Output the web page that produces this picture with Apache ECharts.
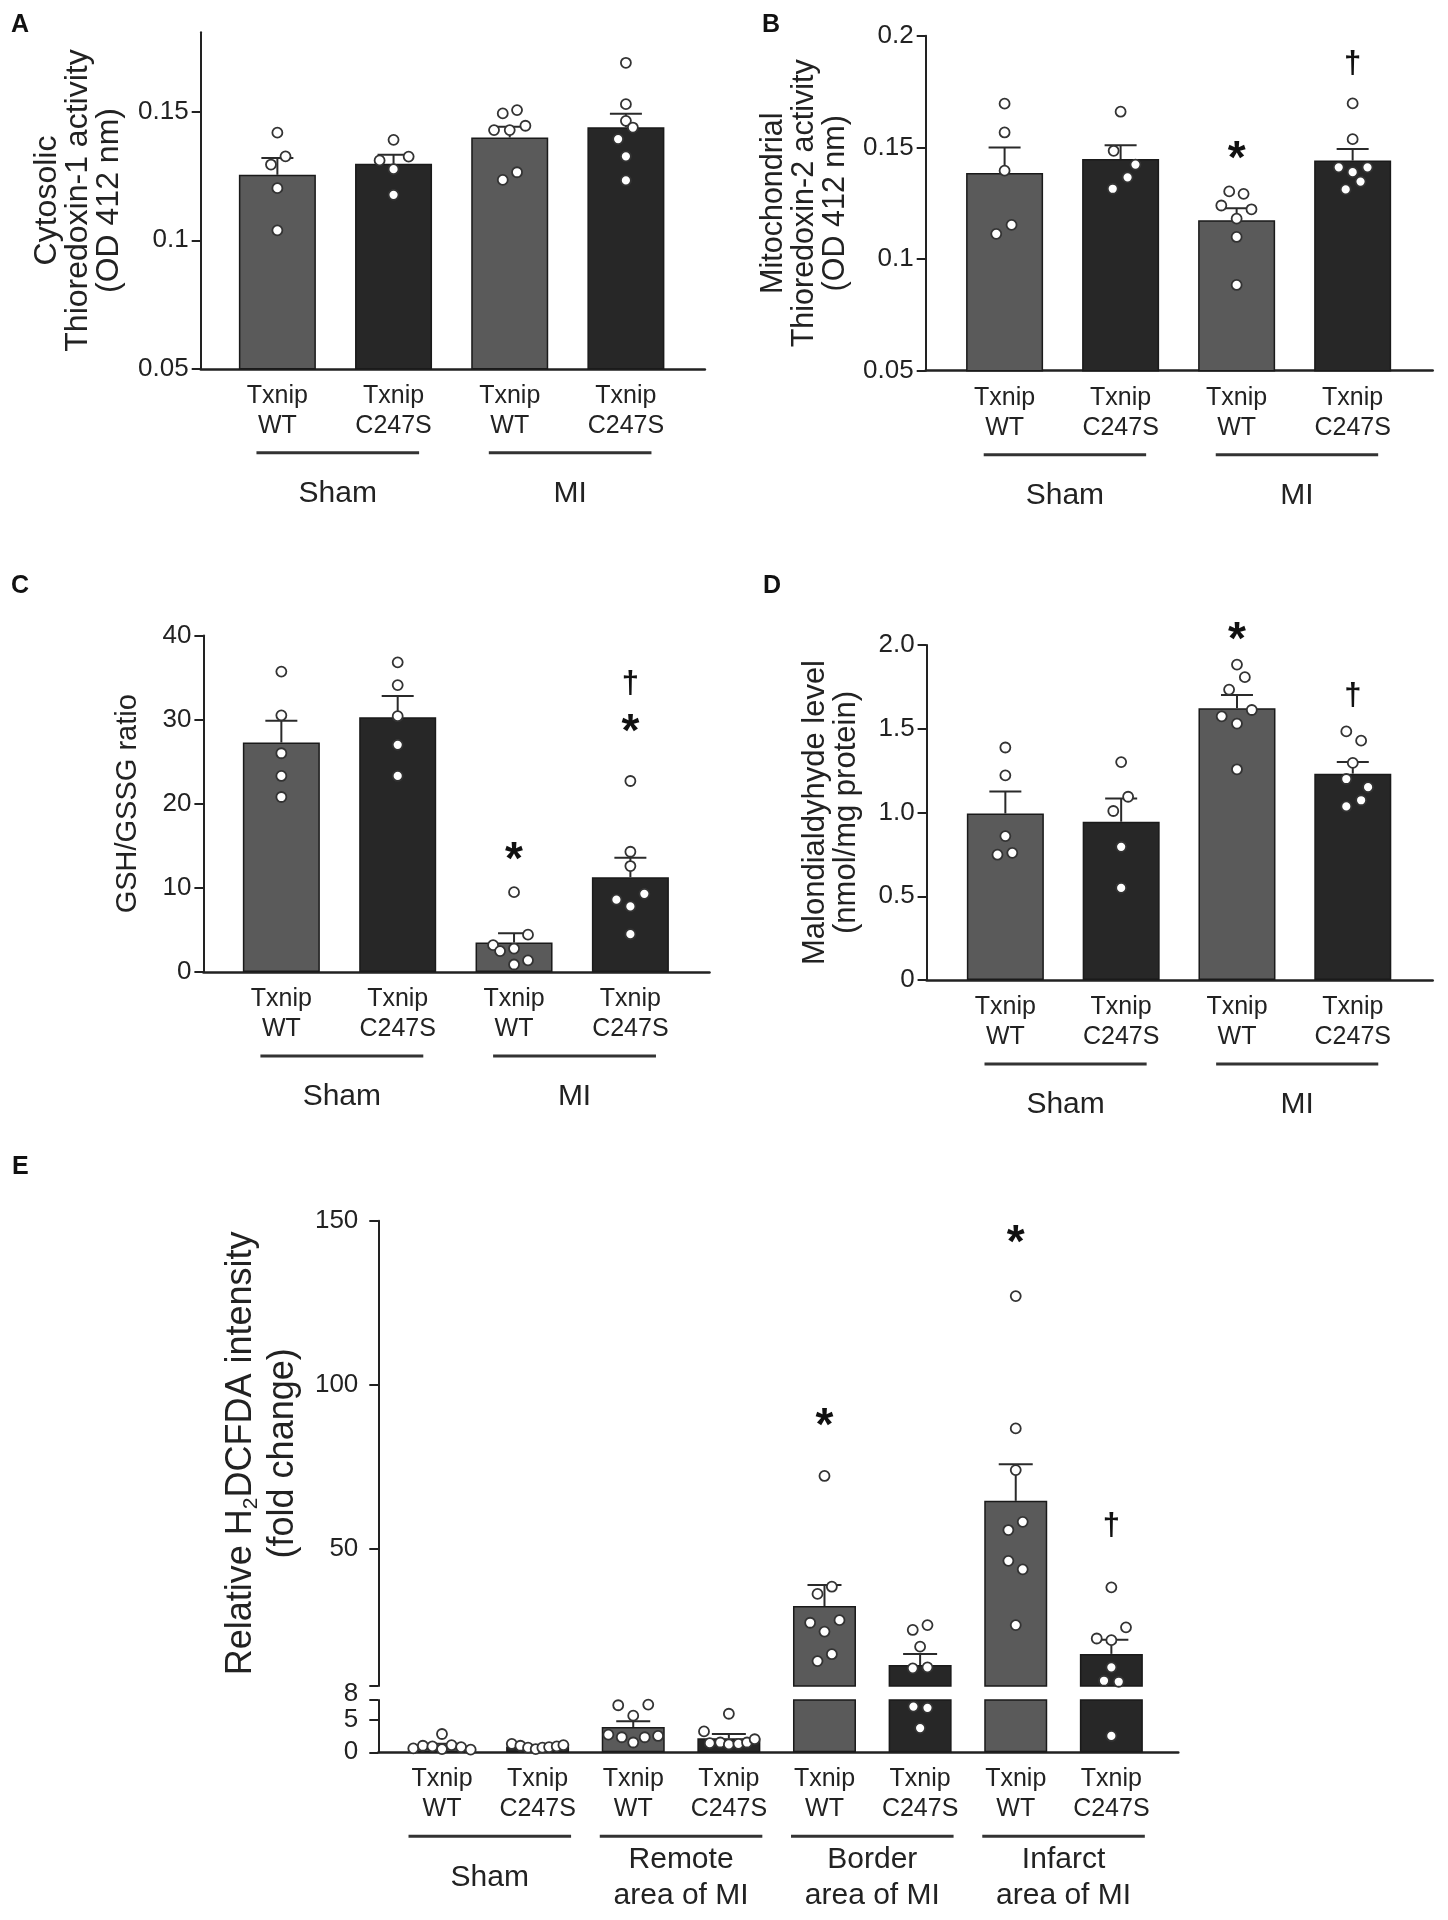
<!DOCTYPE html>
<html>
<head>
<meta charset="utf-8">
<script src="https://cdn.jsdelivr.net/npm/echarts@6/dist/echarts.min.js"></script>
<style>
html,body{margin:0;padding:0;background:#fff;}
#c{width:1448px;height:1920px;}
</style>
</head>
<body>
<div id="c"></div>
<script>
// ---------------- DATA ----------------
const categoriesAD = ['Txnip\nWT', 'Txnip\nC247S', 'Txnip\nWT', 'Txnip\nC247S'];
const groupsAD = ['Sham', 'MI'];
const categoriesE = ['Txnip\nWT', 'Txnip\nC247S', 'Txnip\nWT', 'Txnip\nC247S',
                     'Txnip\nWT', 'Txnip\nC247S', 'Txnip\nWT', 'Txnip\nC247S'];
const groupsE = ['Sham', 'Remote\narea of MI', 'Border\narea of MI', 'Infarct\narea of MI'];

// Panel A: Cytosolic thioredoxin-1 activity
const yTicksA = [0.05, 0.1, 0.15];
const yTickLabelsA = ['0.05', '0.1', '0.15'];
const meanA = [0.1255, 0.1298, 0.1400, 0.1440];
const semTopA = [0.1320, 0.1333, 0.1442, 0.1493];
const dotsA = [
  [0.1419, 0.1327, 0.1295, 0.1203, 0.1039],
  [0.1391, 0.1311, 0.1326, 0.1277, 0.1177],
  [0.1494, 0.1507, 0.1429, 0.1429, 0.1446, 0.1235, 0.1265],
  [0.1691, 0.1530, 0.1465, 0.1439, 0.1394, 0.1327, 0.1233]
];
const jitterA = [
  [0, 0.07, -0.055, 0, 0],
  [0, -0.12, 0.13, 0, 0],
  [-0.06, 0.063, -0.135, 0, 0.135, -0.06, 0.063],
  [0, 0, 0, 0.06, -0.067, 0, 0]
];
const marksA = [];

// Panel B: Mitochondrial thioredoxin-2 activity
const yTicksB = [0.05, 0.1, 0.15, 0.2];
const yTickLabelsB = ['0.05', '0.1', '0.15', '0.2'];
const meanB = [0.1386, 0.1448, 0.1174, 0.1441];
const semTopB = [0.1500, 0.1510, 0.1228, 0.1493];
const dotsB = [
  [0.1696, 0.1567, 0.1396, 0.1113, 0.1153],
  [0.1660, 0.1485, 0.1423, 0.1366, 0.1315],
  [0.1303, 0.1292, 0.1240, 0.1223, 0.1181, 0.1099, 0.0884],
  [0.1697, 0.1537, 0.1411, 0.1389, 0.1411, 0.1312, 0.1347]
];
const jitterB = [
  [0, 0, 0, -0.072, 0.06],
  [0, -0.06, 0.128, 0.06, -0.068],
  [-0.064, 0.06, -0.132, 0.128, 0, 0, 0],
  [0, 0, -0.12, 0, 0.128, -0.06, 0.068]
];
const marksB = [[3, 0.149, '*'], [4, 0.187, '†']];

// Panel C: GSH/GSSG ratio
const yTicksC = [0, 10, 20, 30, 40];
const yTickLabelsC = ['0', '10', '20', '30', '40'];
const meanC = [27.27, 30.29, 3.52, 11.28];
const semTopC = [29.86, 32.79, 4.62, 13.57];
const dotsC = [
  [35.7, 30.5, 26.0, 23.3, 20.8],
  [36.8, 34.1, 30.4, 27.0, 23.3],
  [9.5, 4.45, 3.2, 2.5, 2.8, 1.4, 0.9],
  [22.7, 14.3, 12.6, 8.6, 9.3, 7.8, 4.5]
];
const jitterC = [
  [0, 0, 0, 0, 0],
  [0, 0, 0, 0, 0],
  [0, 0.12, -0.18, -0.12, 0, 0.12, 0],
  [0, 0, 0, -0.12, 0.12, 0, 0]
];
const marksC = [[3, 14.5, '*'], [4, 29.7, '*'], [4, 34.2, '†']];

// Panel D: Malondialdehyde level
const yTicksD = [0, 0.5, 1, 1.5, 2];
const yTickLabelsD = ['0', '0.5', '1.0', '1.5', '2.0'];
const meanD = [0.994, 0.945, 1.623, 1.232];
const semTopD = [1.126, 1.083, 1.702, 1.301];
const dotsD = [
  [1.388, 1.222, 0.859, 0.748, 0.759],
  [1.301, 1.094, 1.009, 0.795, 0.550],
  [1.883, 1.808, 1.734, 1.612, 1.574, 1.531, 1.258],
  [1.484, 1.429, 1.296, 1.200, 1.151, 1.073, 1.036]
];
const jitterD = [
  [0, 0, 0, -0.068, 0.06],
  [0, 0.06, -0.068, 0, 0],
  [0, 0.068, -0.068, 0.128, -0.132, 0, 0],
  [-0.056, 0.072, 0, -0.056, 0.132, 0.072, -0.056]
];
const marksD = [[3, 2.085, '*'], [4, 1.691, '†']];

// Panel E: Relative H2DCFDA intensity (broken axis at 8)
const yBreakE = 8;
const yTicksEUpper = [8, 50, 100, 150];
const yTickLabelsEUpper = ['8', '50', '100', '150'];
const yTicksELower = [0, 5, 8];
const yLabelValsELower = [0, 5];
const yTickLabelsELower = ['0', '5'];
const meanE = [0.98, 0.87, 3.87, 2.16, 32.4, 14.4, 64.5, 17.8];
const semTopE = [1.3, 1.05, 4.74, 2.8, 38.8, 17.8, 75.7, 22.1];
const dotsE = [
  [2.8, 0.6, 1.0, 0.9, 0.5, 1.1, 0.8, 0.4],
  [1.3, 1.0, 0.7, 0.5, 0.7, 0.8, 0.9, 1.1],
  [7.2, 7.3, 5.6, 2.7, 2.3, 1.5, 2.3, 2.5],
  [5.9, 3.2, 1.4, 1.5, 1.2, 1.3, 1.5, 2.0],
  [72.1, 38.3, 36.1, 27.3, 28.1, 24.6, 17.7, 15.6],
  [25.1, 26.6, 20.0, 13.4, 13.7, 7.0, 6.8, 3.7],
  [127.0, 86.6, 73.9, 58.1, 55.6, 46.2, 43.6, 26.6],
  [38.1, 25.9, 22.5, 22.0, 13.7, 9.6, 9.3, 2.5]
];
const jitterE = [
  [0, -0.3, -0.2, -0.1, 0, 0.1, 0.2, 0.3],
  [-0.27, -0.18, -0.1, -0.02, 0.05, 0.12, 0.2, 0.27],
  [-0.157, 0.157, 0, -0.26, -0.12, 0, 0.12, 0.26],
  [0, -0.26, -0.2, -0.09, 0, 0.1, 0.19, 0.27],
  [0, 0.077, -0.073, -0.15, 0.157, 0, 0.077, -0.073],
  [-0.077, 0.077, 0, -0.077, 0.077, -0.07, 0.077, 0],
  [0, 0, 0, 0.073, -0.077, -0.077, 0.073, 0],
  [0, 0.153, -0.153, 0, 0, -0.077, 0.077, 0]
];
const marksE = [[5, 90.2, '*'], [7, 146.1, '*'], [8, 56.6, '†']];

// ---------------- CHART ----------------
const FONT = '"Liberation Sans", Arial, Helvetica, sans-serif';
const INK = '#222';
const WT_COLOR = '#5a5a5a';
const MUT_COLOR = '#272727';

const grids = [], xAxes = [], yAxes = [], series = [];

function fmtTick(vals, labels) {
  return function (v) {
    const i = vals.findIndex(t => Math.abs(t - v) < 1e-9);
    return i >= 0 ? labels[i] : '';
  };
}

function addGrid(rect, xr, yr, o) {
  const gi = grids.length;
  grids.push({left: rect[0], top: rect[1], width: rect[2], height: rect[3], containLabel: false});
  xAxes.push({
    type: 'value', gridIndex: gi, min: xr[0], max: xr[1],
    axisLine: {show: o.showX, onZero: false, lineStyle: {color: INK, width: 2.5}},
    axisTick: {show: false}, splitLine: {show: false},
    axisLabel: o.cats ? {
      show: true, customValues: o.cats.map((c, i) => i + 1),
      formatter: v => o.cats[Math.round(v) - 1] || '',
      fontSize: 25, lineHeight: 30, margin: 12, color: INK, fontFamily: FONT
    } : {show: false}
  });
  const lv = o.labelVals || o.tickVals;
  yAxes.push({
    type: 'value', gridIndex: gi, min: yr[0], max: yr[1],
    axisLine: {show: true, onZero: false, lineStyle: {color: INK, width: 2}},
    axisTick: {show: true, length: 9, customValues: o.tickVals, lineStyle: {color: INK, width: 2}},
    axisLabel: {
      show: true, customValues: lv, formatter: o.formatter || fmtTick(lv, o.tickLabels),
      fontSize: 26, margin: o.labelMargin || 12, color: INK, fontFamily: FONT, rich: o.rich
    },
    splitLine: {show: false},
    name: o.name || '', nameLocation: 'middle', nameRotate: 90, nameGap: o.nameGap || 60,
    nameTextStyle: {fontSize: o.nameSize || 30, lineHeight: o.nameLH || 31, color: INK,
                    fontFamily: FONT, rich: o.nameRich}
  });
  return gi;
}

function addBars(gi, means, barWidth) {
  series.push({
    type: 'bar', xAxisIndex: gi, yAxisIndex: gi, barWidth: barWidth, clip: true, silent: true, z: 2,
    itemStyle: {borderColor: '#1a1a1a', borderWidth: 1.5},
    data: means.map((m, k) => ({value: [k + 1, m], itemStyle: {color: k % 2 ? MUT_COLOR : WT_COLOR}}))
  });
}

function addErr(gi, items, capHalf) {
  series.push({
    type: 'custom', xAxisIndex: gi, yAxisIndex: gi, z: 3, silent: true, clip: false,
    data: items,
    renderItem: function (p, api) {
      const x = api.value(0);
      const a = api.coord([x, api.value(1)]);
      const b = api.coord([x, api.value(2)]);
      const st = {stroke: '#2a2a2a', lineWidth: 2};
      return {type: 'group', children: [
        {type: 'line', shape: {x1: a[0], y1: a[1], x2: b[0], y2: b[1]}, style: st},
        {type: 'line', shape: {x1: b[0] - capHalf, y1: b[1], x2: b[0] + capHalf, y2: b[1]}, style: st}
      ]};
    }
  });
}

function addDots(gi, pts) {
  series.push({
    type: 'scatter', xAxisIndex: gi, yAxisIndex: gi, z: 4, silent: true,
    symbol: 'circle', symbolSize: 10,
    itemStyle: {color: '#fff', borderColor: '#333', borderWidth: 1.8, opacity: 1},
    data: pts
  });
}

function addMarks(gi, marks) {
  if (!marks.length) return;
  series.push({
    type: 'custom', xAxisIndex: gi, yAxisIndex: gi, z: 5, silent: true, clip: false,
    data: marks.map(m => [m[0], m[1], m[2] === '*' ? 0 : 1]),
    renderItem: function (p, api) {
      const c = api.coord([api.value(0), api.value(1)]);
      const star = api.value(2) === 0;
      const fs = star ? 46 : 31;
      return {type: 'text', x: c[0], y: c[1] + (star ? 0.24 * fs : 0),
        style: {text: star ? '*' : '†', fontSize: fs, fontWeight: 'bold', fontFamily: FONT,
                fill: '#111', align: 'center', verticalAlign: 'middle'}};
    }
  });
}

function addGroups(gi, groups, yMin, padL, padR) {
  series.push({
    type: 'custom', xAxisIndex: gi, yAxisIndex: gi, z: 5, silent: true, clip: false,
    data: groups.map((g, k) => [2 * k + 1, yMin, k]),
    renderItem: function (p, api) {
      const first = api.value(0), k = api.value(2);
      const a = api.coord([first - padL, yMin]);
      const b = api.coord([first + 1 + padR, yMin]);
      const y = a[1];
      return {type: 'group', children: [
        {type: 'line', shape: {x1: a[0], y1: y + 84, x2: b[0], y2: y + 84}, style: {stroke: '#333', lineWidth: 3}},
        {type: 'text', x: (a[0] + b[0]) / 2, y: y + 125,
         style: {text: groups[k], fontSize: 30, lineHeight: 36, fontFamily: FONT, fill: INK,
                 align: 'center', verticalAlign: 'middle'}}
      ]};
    }
  });
}

function dotPoints(dots, jitter, filter) {
  const out = [];
  dots.forEach((arr, k) => arr.forEach((v, j) => {
    if (!filter || filter(v)) out.push([k + 1 + jitter[k][j], v]);
  }));
  return out;
}

function simplePanel(rect, xr, yr, ticks, tickLabels, name, nameGap, nameSize, means, tops, dots, jitter, marks) {
  const gi = addGrid(rect, xr, yr, {showX: true, cats: categoriesAD, tickVals: ticks, tickLabels: tickLabels,
                                   name: name, nameGap: nameGap, nameSize: nameSize});
  addBars(gi, means, 77);
  addErr(gi, means.map((m, k) => [k + 1, m, tops[k]]), 16);
  addDots(gi, dotPoints(dots, jitter));
  addMarks(gi, marks);
  addGroups(gi, groupsAD, yr[0], 0.18, 0.22);
}

simplePanel([200.7, 32.2, 504.2, 336.6], [0.34, 4.68], [0.05, 0.181], yTicksA, yTickLabelsA,
  'Cytosolic\nThioredoxin-1 activity\n(OD 412 nm)', 76, 32, meanA, semTopA, dotsA, jitterA, marksA);
simplePanel([925.7, 35.8, 507, 334.9], [0.32, 4.69], [0.05, 0.2], yTicksB, yTickLabelsB,
  'Mitochondrial\nThioredoxin-2 activity\n(OD 412 nm)', 75, 30.5, meanB, semTopB, dotsB, jitterB, marksB);
simplePanel([203.4, 635.4, 506.1, 336.7], [0.33, 4.68], [0, 40], yTicksC, yTickLabelsC,
  'GSH/GSSG ratio', 60, 29, meanC, semTopC, dotsC, jitterC, marksC);
simplePanel([926.6, 645, 506.1, 335], [0.32, 4.69], [0, 2], yTicksD, yTickLabelsD,
  'Malondialdyhyde level\n(nmol/mg protein)', 65, 31, meanD, semTopD, dotsD, jitterD, marksD);

// Panel E - upper segment
const gEu = addGrid([378.3, 1220.7, 800, 465.3], [0.334, 8.70], [yBreakE, 150], {
  showX: false, tickVals: yTicksEUpper, labelMargin: 20,
  formatter: v => Math.abs(v - yBreakE) < 1e-9 ? '{low|' + yTickLabelsEUpper[0] + '}' : fmtTick(yTicksEUpper, yTickLabelsEUpper)(v),
  rich: {low: {fontSize: 26, color: INK, fontFamily: FONT, padding: [15, 0, 0, 0]}},
  name: 'Relative H{sub|2}DCFDA intensity\n(fold change)', nameGap: 73, nameSize: 36, nameLH: 42,
  nameRich: {sub: {fontSize: 21, lineHeight: 28, verticalAlign: 'bottom', color: INK, fontFamily: FONT}}
});
// Panel E - lower segment
const gEl = addGrid([378.3, 1700, 800, 52.3], [0.334, 8.70], [0, yBreakE], {
  showX: true, cats: categoriesE, tickVals: yTicksELower, labelVals: yLabelValsELower,
  tickLabels: yTickLabelsELower, labelMargin: 20
});
addBars(gEu, meanE, 63);
addBars(gEl, meanE, 63);
const errE = meanE.map((m, k) => [k + 1, m, semTopE[k]]);
addErr(gEu, errE.filter(e => e[1] > yBreakE), 17);
addErr(gEl, errE.filter(e => e[1] <= yBreakE), 17);
addDots(gEu, dotPoints(dotsE, jitterE, v => v > yBreakE));
addDots(gEl, dotPoints(dotsE, jitterE, v => v <= yBreakE));
addMarks(gEu, marksE);
addGroups(gEl, groupsE, 0, 0.35, 0.35);

const letterStyle = {fontSize: 25, fontWeight: 'bold', color: '#111', fontFamily: FONT};
const option = {
  animation: false,
  backgroundColor: '#fff',
  textStyle: {fontFamily: FONT},
  title: [
    {text: 'A', left: 11, top: 13, padding: 0, textStyle: letterStyle},
    {text: 'B', left: 762, top: 13, padding: 0, textStyle: letterStyle},
    {text: 'C', left: 11, top: 574, padding: 0, textStyle: letterStyle},
    {text: 'D', left: 763, top: 574, padding: 0, textStyle: letterStyle},
    {text: 'E', left: 12, top: 1155, padding: 0, textStyle: letterStyle}
  ],
  grid: grids,
  xAxis: xAxes,
  yAxis: yAxes,
  series: series
};

const chart = echarts.init(document.getElementById('c'), null, {renderer: 'canvas', width: 1448, height: 1920});
chart.setOption(option);
</script>
</body>
</html>
